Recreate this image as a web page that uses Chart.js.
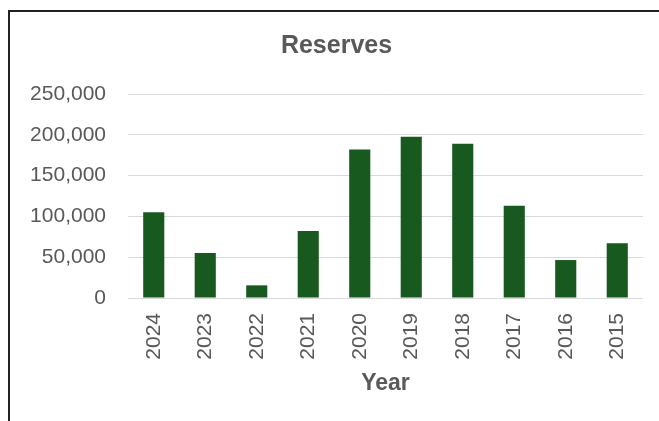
<!DOCTYPE html>
<html>
<head>
<meta charset="utf-8">
<script src="https://cdn.jsdelivr.net/npm/chart.js@4.4.1/dist/chart.umd.min.js"></script>
<style>
    html, body { margin: 0; padding: 0; background: #fff; overflow: hidden; }
    #marco {
        position: relative;
        width: 659px;
        height: 421px;
        overflow: hidden;
    }
    #borde {
        position: absolute;
        left: 8px;
        top: 10px;
        width: 700px;
        height: 500px;
        border-top: 2px solid #222;
        border-left: 2px solid #222;
        box-sizing: border-box;
    }
    /* el grafico original sigue un poco mas alla del borde derecho */
    #grafico-reservas { position: absolute; left: 0; top: 0; }
</style>
</head>
<body>
<div id="marco">
    <div id="borde"></div>
    <canvas id="grafico-reservas" width="685" height="421"></canvas>
</div>
<script>
// Datos
const anios = ['2024', '2023', '2022', '2021', '2020', '2019', '2018', '2017', '2016', '2015'];
const reservas = [105000, 55000, 15500, 82000, 182000, 197500, 189000, 113000, 46500, 67000];
const ticksY = [0, 50000, 100000, 150000, 200000, 250000];

const fuente = "'Liberation Sans', Arial, sans-serif";
const grisTexto = '#595959';

const ctx = document.getElementById('grafico-reservas');

new Chart(ctx, {
    type: 'bar',
    data: {
        labels: anios,
        datasets: [{
            label: 'Reserves',
            data: reservas,
            backgroundColor: '#18591f',
            borderWidth: 0,
            barPercentage: 0.5,
            categoryPercentage: 0.82
        }]
    },
    options: {
        responsive: false,
        animation: false,
        layout: {
            padding: { left: 30, right: 42, top: 31, bottom: 20 }
        },
        plugins: {
            legend: { display: false },
            tooltip: { enabled: false },
            title: {
                display: true,
                text: 'Reserves',
                color: grisTexto,
                font: { family: fuente, size: 25, weight: 'bold' },
                padding: { top: 0, bottom: 33 }
            }
        },
        scales: {
            y: {
                min: ticksY[0],
                max: ticksY[ticksY.length - 1],
                afterBuildTicks: function (axis) {
                    axis.ticks = ticksY.map(v => ({ value: v }));
                },
                afterFit: function (axis) {
                    axis.width = 98;
                },
                ticks: {
                    color: grisTexto,
                    font: { family: fuente, size: 21 },
                    padding: 22,
                    callback: function (value) {
                        return value.toLocaleString('en-US');
                    }
                },
                grid: {
                    color: '#d9d9d9',
                    lineWidth: 1,
                    drawTicks: false
                },
                border: { display: false }
            },
            x: {
                afterFit: function (axis) {
                    axis.height = 103;
                },
                ticks: {
                    color: grisTexto,
                    font: { family: fuente, size: 21 },
                    minRotation: 90,
                    maxRotation: 90,
                    padding: 15
                },
                grid: { display: false, drawTicks: false },
                border: { display: false },
                title: {
                    display: true,
                    text: 'Year',
                    color: grisTexto,
                    font: { family: fuente, size: 23, weight: 'bold' },
                    padding: { top: 10, bottom: 4 }
                }
            }
        }
    }
});
</script>
</body>
</html>
